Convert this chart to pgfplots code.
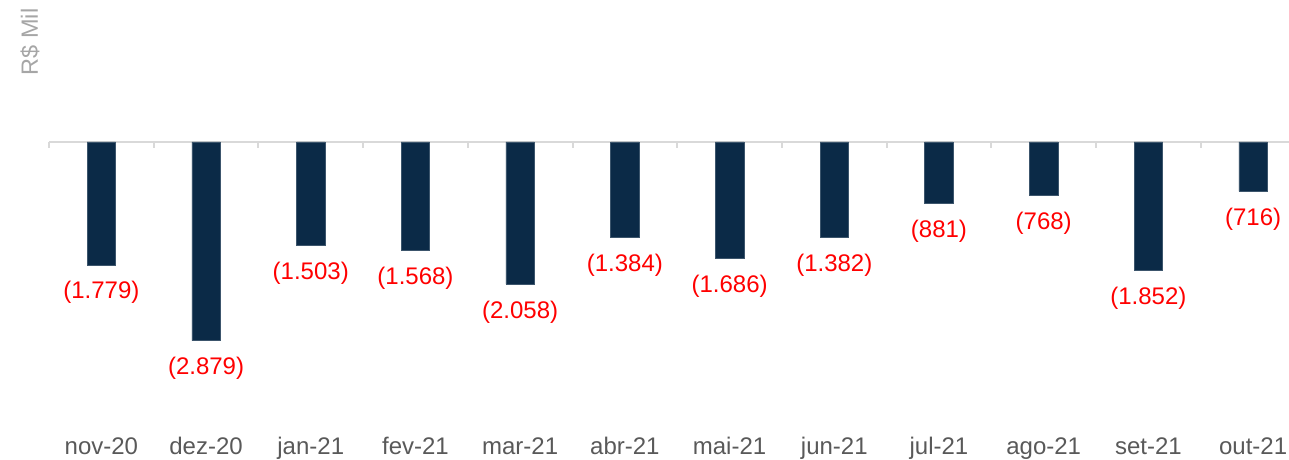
\documentclass[border=0pt]{standalone}
\usepackage{pgfplots}
\pgfplotsset{compat=1.18}
\usepackage{fontspec}
\setmainfont{Liberation Sans}
\definecolor{barblue}{HTML}{0B2A47}
\definecolor{lblred}{HTML}{FF0000}
\definecolor{catgray}{HTML}{595959}
\definecolor{ylgray}{HTML}{A6A6A6}
\definecolor{zerogray}{HTML}{D9D9D9}
\begin{document}
\begin{tikzpicture}
\path[use as bounding box] (0,0) rectangle (1289pt,459pt);
\begin{axis}[
  scale only axis,
  width=1240pt, height=459pt,
  at={(49pt,0pt)}, anchor=south west,
  xmin=-0.5, xmax=11.343,
  ymin=-4593, ymax=2057,
  axis line style={draw=none},
  major tick length=0pt,
  ytick=\empty,
  xtick={0,1,2,3,4,5,6,7,8,9,10,11},
  xticklabels={nov-20,dez-20,jan-21,fev-21,mar-21,abr-21,mai-21,jun-21,jul-21,ago-21,set-21,out-21},
  xticklabel style={anchor=base, yshift=5pt, text=catgray, font=\fontsize{24}{28}\selectfont},
  ylabel={R\$ Mil},
  ylabel style={at={(axis description cs:-0.0153,0.9085)}, anchor=center, text=ylgray, font=\fontsize{23.5}{28}\selectfont},
  clip=false,
]
\draw[zerogray, line width=2.5pt] (axis cs:-0.5,0) -- (axis cs:11.343,0);
\foreach \xx in {-0.5,0.5,1.5,2.5,3.5,4.5,5.5,6.5,7.5,8.5,9.5,10.5}{
  \edef\tmp{\noexpand\draw[zerogray, line width=2pt] (axis cs:\xx,0) -- ([yshift=-6.5pt]axis cs:\xx,0);}\tmp
}
\addplot[ybar, bar width=28.5pt, fill=barblue, draw=barblue!80!white, line width=0.5pt,
  point meta=explicit symbolic,
  nodes near coords,
  every node near coord/.append style={anchor=center, text=lblred, font=\fontsize{24}{28}\selectfont, yshift=-28pt},
] coordinates {
  (0,-1779) [(1.779)]
  (1,-2879) [(2.879)]
  (2,-1503) [(1.503)]
  (3,-1568) [(1.568)]
  (4,-2058) [(2.058)]
  (5,-1384) [(1.384)]
  (6,-1686) [(1.686)]
  (7,-1382) [(1.382)]
  (8,-881) [(881)]
  (9,-768) [(768)]
  (10,-1852) [(1.852)]
  (11,-716) [(716)]
};
\end{axis}
\end{tikzpicture}
\end{document}
